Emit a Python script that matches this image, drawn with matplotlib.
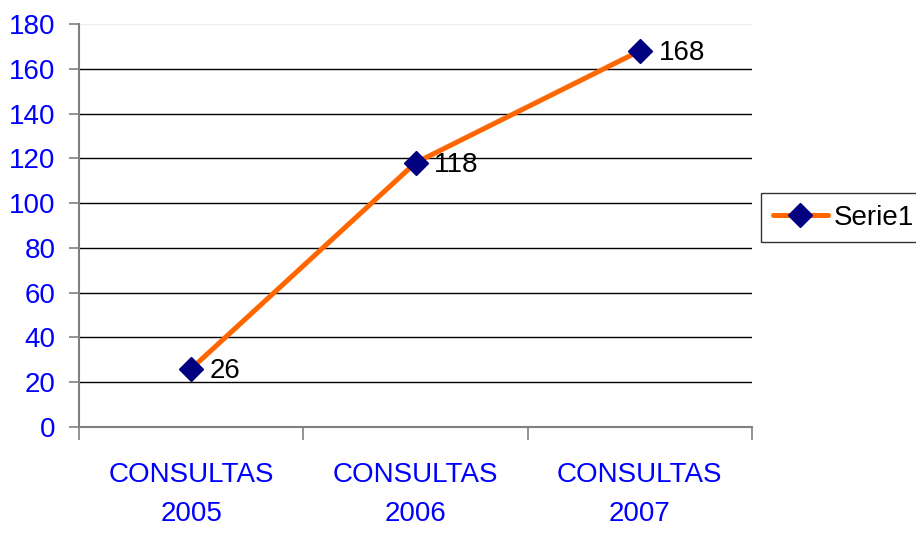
import matplotlib
matplotlib.use("Agg")
import matplotlib.pyplot as plt
from matplotlib.ticker import FixedLocator

categories = ["CONSULTAS\n2005", "CONSULTAS\n2006", "CONSULTAS\n2007"]
values = [26, 118, 168]
series_name = "Serie1"
y_ticks = [0, 20, 40, 60, 80, 100, 120, 140, 160, 180]

plt.rcParams["font.family"] = ["Liberation Sans", "DejaVu Sans"]

fig = plt.figure(figsize=(9.16, 5.33), dpi=100)
ax = fig.add_axes([79 / 916, 106 / 533, (752 - 79) / 916, (427 - 24) / 533])

x = list(range(len(categories)))
ax.plot(x, values, color="#FF6600", lw=3.6, marker="D", markersize=12,
        markerfacecolor="#000080", markeredgecolor="#000080",
        solid_capstyle="round", label=series_name, zorder=3)

for xi, v in zip(x, values):
    ax.annotate(f"{v}", (xi, v), xytext=(13.5, -1.5), textcoords="offset points",
                ha="left", va="center", fontsize=20, color="black")

ax.set_xlim(-0.5, len(categories) - 0.5)
ax.set_ylim(0, 180)
ax.set_yticks(y_ticks)
ax.set_yticklabels([str(t) for t in y_ticks])
ax.tick_params(axis="y", colors="#808080", labelcolor="#0000FF", labelsize=20,
               length=7, width=1.2, pad=10, direction="out")

ax.set_xticks(x)
ax.set_xticklabels(categories, color="#0000FF", fontsize=20, linespacing=1.65)
ax.tick_params(axis="x", length=0, pad=25)
ax.xaxis.set_minor_locator(FixedLocator([i - 0.5 for i in range(len(categories) + 1)]))
ax.tick_params(axis="x", which="minor", length=9, width=1.2, color="#808080",
               direction="out")

ax.yaxis.grid(True, color="black", lw=1)
grid_lines = ax.yaxis.get_gridlines()
grid_lines[-1].set_color("#eeeeee")
ax.set_axisbelow(True)

for side in ["top", "right"]:
    ax.spines[side].set_visible(False)
for side in ["left", "bottom"]:
    ax.spines[side].set_color("#808080")
    ax.spines[side].set_linewidth(1.5)

leg = fig.legend(loc="upper left", bbox_to_anchor=(761 / 916, 1 - 193 / 533),
                 fontsize=20, frameon=True, fancybox=False, borderpad=0.42,
                 handlelength=2.0, handletextpad=0.2, borderaxespad=0)
leg.get_frame().set_edgecolor("black")
leg.get_frame().set_linewidth(1.0)

fig.savefig("out.png", dpi=100)
